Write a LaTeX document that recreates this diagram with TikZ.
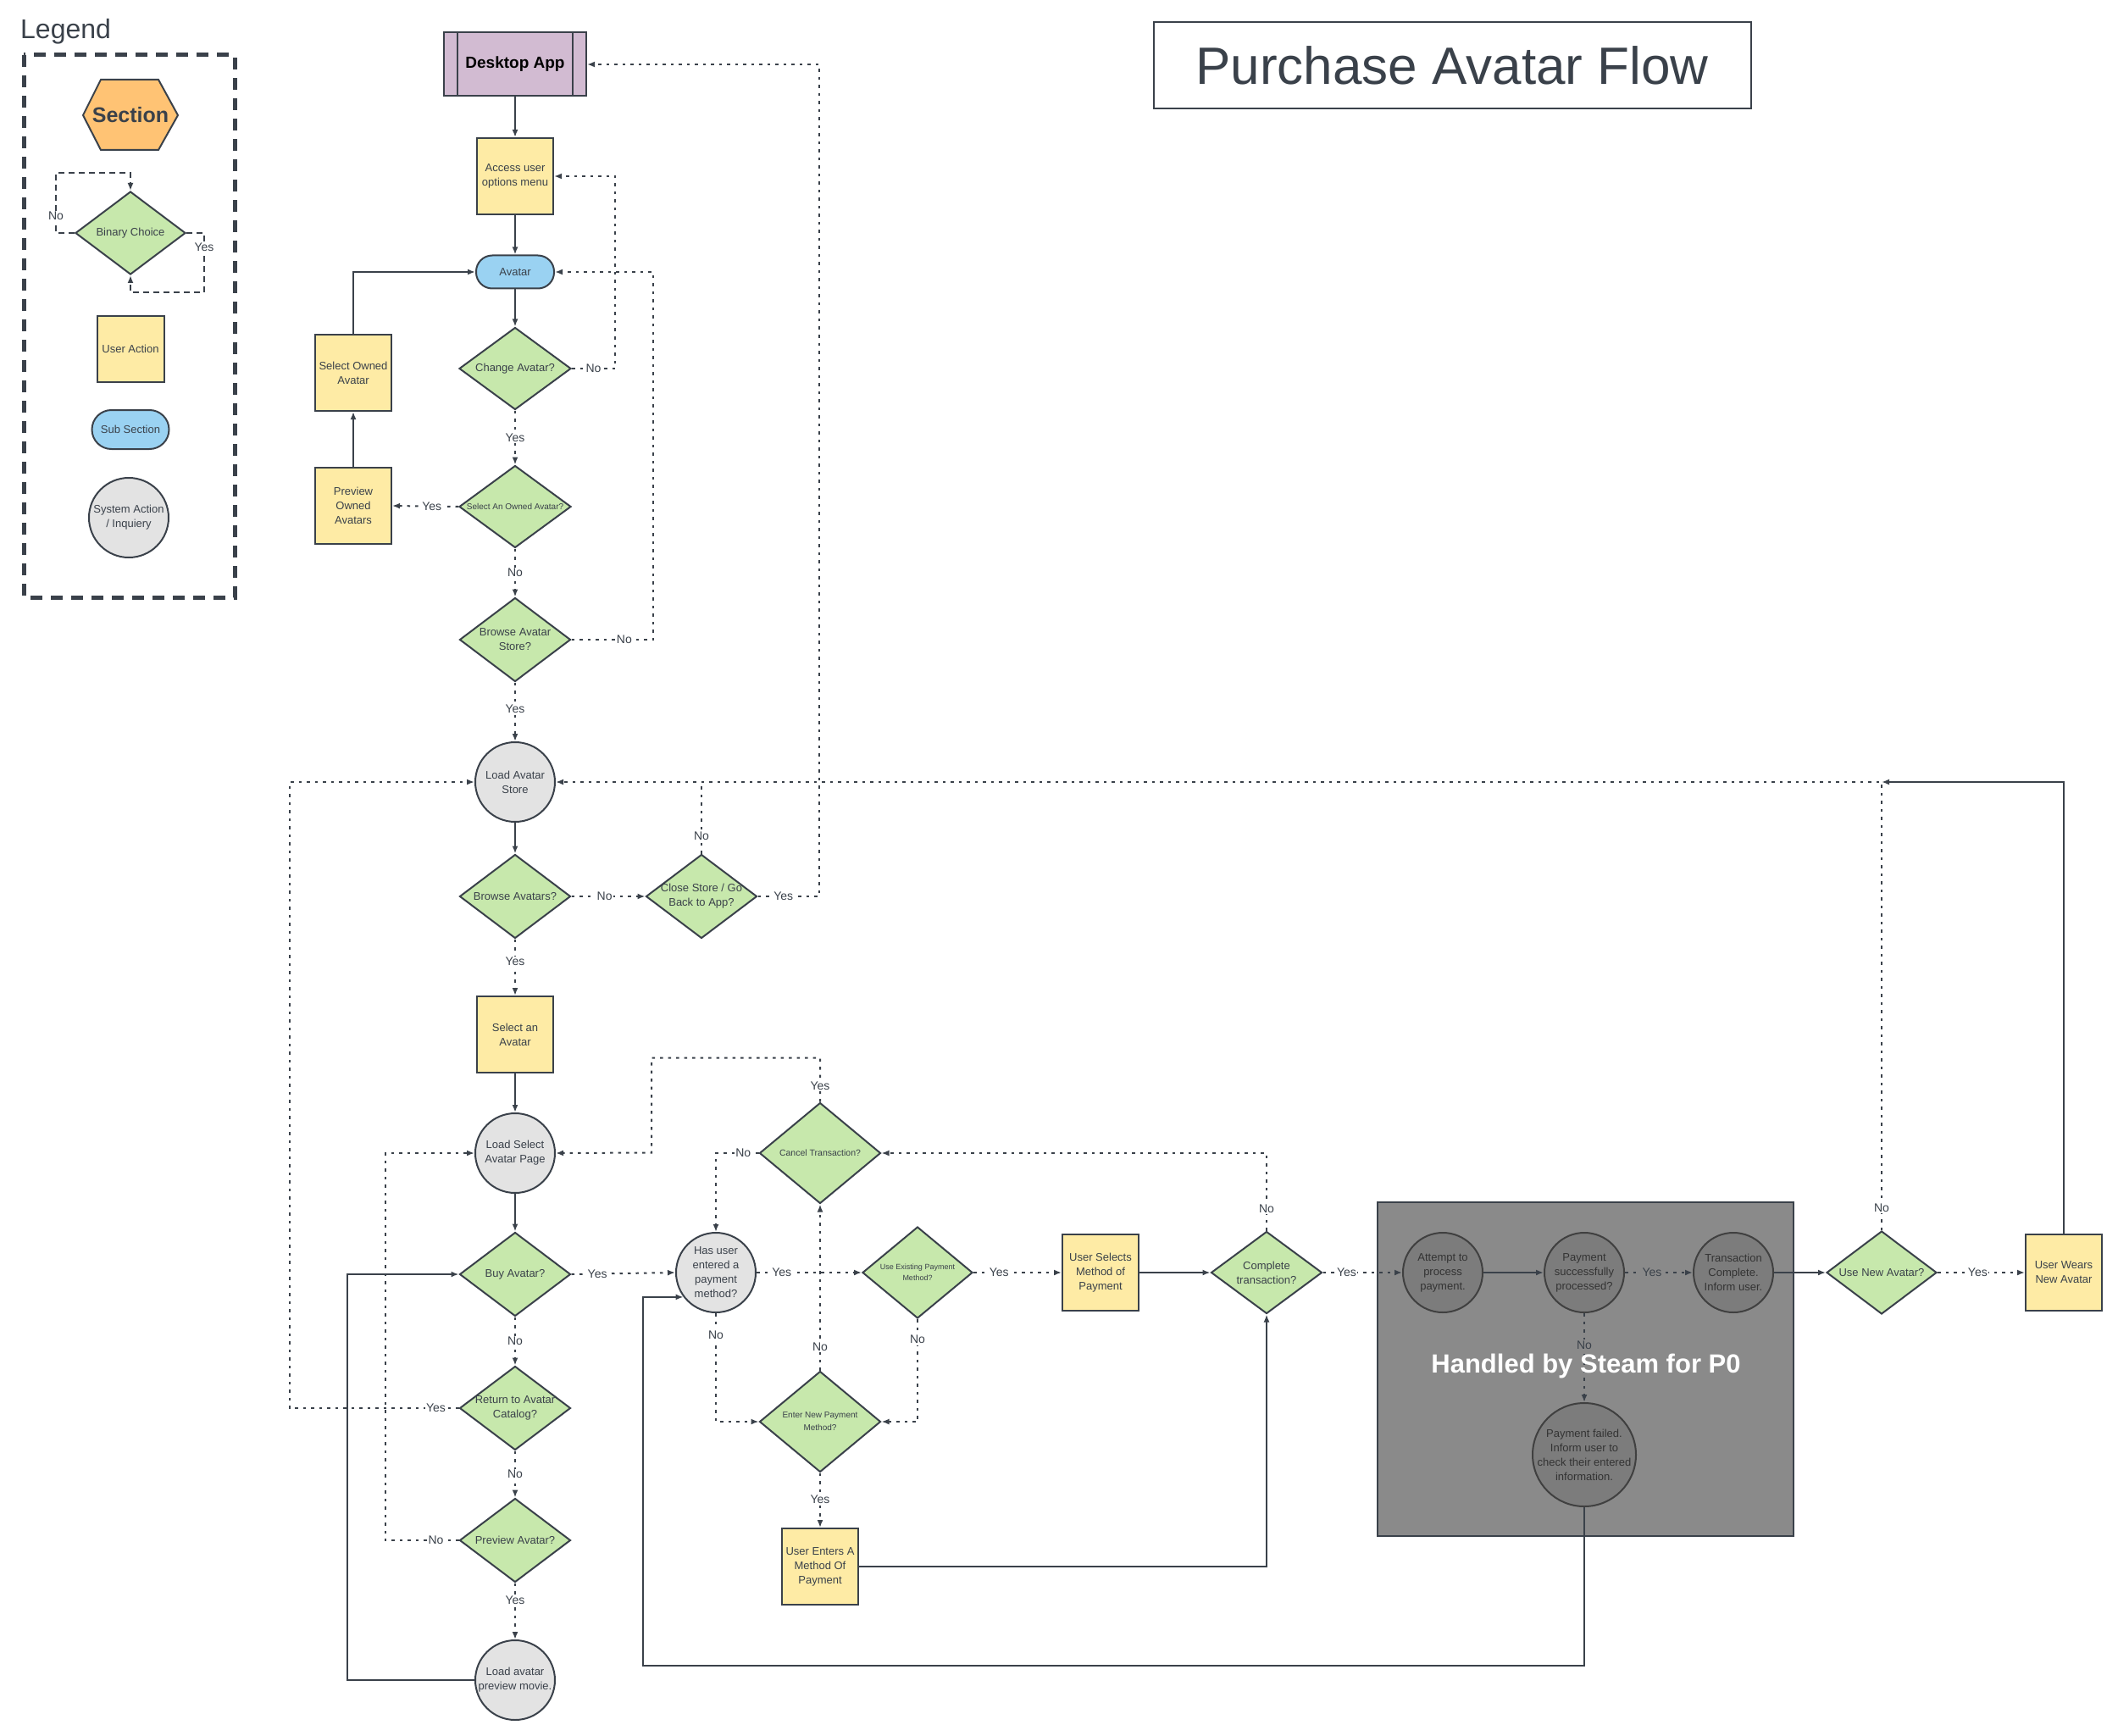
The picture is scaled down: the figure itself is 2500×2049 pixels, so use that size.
\documentclass[tikz,border=0pt]{standalone}
\usepackage{fontspec}
\setmainfont{Liberation Sans}
\usepackage{tikz}
\usetikzlibrary{shapes.geometric, arrows.meta, positioning}

\definecolor{ink}{HTML}{3A414A}
\definecolor{useryellow}{HTML}{FEEBA5}
\definecolor{choicegreen}{HTML}{C7E8AC}
\definecolor{subblue}{HTML}{9AD2F2}
\definecolor{sysgray}{HTML}{E3E3E3}
\definecolor{secorange}{HTML}{FFC374}
\definecolor{deskpurple}{HTML}{D2BBD2}
\definecolor{steamgray}{HTML}{8A8A8A}
\definecolor{steamcircle}{HTML}{7C7C7C}

\tikzset{
  base/.style={draw=ink, line width=2pt, text=ink, align=center, inner sep=0pt, font=\fontsize{13pt}{17pt}\selectfont},
  action/.style={base, rectangle, fill=useryellow, minimum width=90pt, minimum height=90pt},
  decision/.style={base, diamond, aspect=1.32, inner sep=-6pt, fill=choicegreen, minimum width=131pt, minimum height=99pt},
  sysnode/.style={base, circle, fill=sysgray, minimum size=94pt},
  steamnode/.style={base, circle, fill=steamcircle, draw=black!75, text=black!80, minimum size=94pt},
  subnode/.style={base, rectangle, rounded corners=19pt, fill=subblue, minimum width=92pt, minimum height=39pt},
  flow/.style={draw=ink, line width=2pt, -{Latex[length=9pt,width=7pt]}},
  flowdot/.style={flow, dash pattern=on 3.5pt off 6pt},
  loopdash/.style={flow, dash pattern=on 7pt off 5pt},
  lbl/.style={fill=white, text=ink, inner sep=1.5pt, font=\fontsize{14pt}{16pt}\selectfont},
}

\begin{document}
\begin{tikzpicture}[x=1pt, y=-1pt]
\useasboundingbox (0,0) rectangle (2500,2049);

% legend
\node[anchor=west, inner sep=0pt, text=ink, font=\fontsize{32pt}{36pt}\selectfont] (legendtitle) at (24,37) {Legend};
\draw[ink, line width=5pt, dash pattern=on 14pt off 10pt] (28,65) rectangle (277,705);
\draw[ink, line width=2pt, fill=secorange] (98,136) -- (119,94) -- (187,94) -- (210,136) -- (187,177) -- (119,177) -- cycle;
\node[text=ink, font=\bfseries\fontsize{25pt}{28pt}\selectfont] (section) at (154,136) {Section};
\node[decision, minimum width=130pt, minimum height=98pt] (bin) at (154,275) {Binary Choice};
\draw[loopdash] (bin.west) -- ++(-22,0) |- node[lbl, pos=0.14]{No} ([yshift=21pt]bin.north) -- (bin.north);
\draw[loopdash] (bin.east) -- ++(21,0) |- node[lbl, pos=0.12]{Yes} ([yshift=-20pt]bin.south) -- (bin.south);
\node[action, minimum width=79pt, minimum height=78pt] (useract) at (154,412) {User Action};
\node[subnode, minimum width=91pt, minimum height=46pt, rounded corners=23pt] (subsec) at (154,507) {Sub Section};
\node[sysnode] (sysact) at (152,611) {System Action\\/ Inquiery};

% title
\node[draw=ink, line width=2pt, minimum width=705pt, minimum height=102pt, text=ink, font=\fontsize{62pt}{70pt}\selectfont] (title) at (1714,77) {Purchase Avatar Flow};

% steam area
\node[draw=ink, line width=2pt, fill=steamgray, minimum width=491pt, minimum height=394pt] (steam) at (1871.5,1616) {};

% main column
\node[base, fill=deskpurple, minimum width=168pt, minimum height=75pt, text=black, font=\bfseries\fontsize{19pt}{22pt}\selectfont] (desk) at (608,76) {Desktop App};
\draw[ink, line width=2pt] ([xshift=17pt]desk.north west) -- ([xshift=17pt]desk.south west);
\draw[ink, line width=2pt] ([xshift=-17pt]desk.north east) -- ([xshift=-17pt]desk.south east);
\node[action] (access) at (608,208) {Access user\\options menu};
\node[subnode] (avatar) at (608,321) {Avatar};
\node[decision, minimum width=132pt, minimum height=97pt] (chg) at (608,435) {Change Avatar?};
\node[decision, minimum width=132pt, minimum height=97pt, font=\fontsize{10pt}{13pt}\selectfont] (sel) at (608,598) {Select An Owned Avatar?};
\node[action] (selowned) at (417,440) {Select Owned\\Avatar};
\node[action] (prevowned) at (417,597) {Preview\\Owned\\Avatars};
\node[decision] (browsestore) at (608,755) {Browse Avatar\\Store?};
\node[sysnode] (loadstore) at (608,923) {Load Avatar\\Store};
\node[decision] (browse) at (608,1058) {Browse Avatars?};
\node[decision] (close) at (828,1058) {Close Store / Go\\Back to App?};
\node[action] (selavatar) at (608,1221) {Select an\\Avatar};
\node[sysnode] (selpage) at (608,1361) {Load Select\\Avatar Page};
\node[decision] (buy) at (608,1504) {Buy Avatar?};
\node[decision] (return) at (608,1662) {Return to Avatar\\Catalog?};
\node[decision] (preview) at (608,1818) {Preview Avatar?};
\node[sysnode] (loadmovie) at (608,1983) {Load avatar\\preview movie.};

% payment
\node[decision, minimum width=143pt, minimum height=119pt, font=\fontsize{10.5pt}{14pt}\selectfont] (cancel) at (968,1361) {Cancel Transaction?};
\node[sysnode] (hasuser) at (845,1502) {Has user\\entered a\\payment\\method?};
\node[decision, minimum width=130pt, minimum height=108pt, font=\fontsize{9pt}{13pt}\selectfont] (useex) at (1083,1502) {Use Existing Payment\\Method?};
\node[decision, minimum width=143pt, minimum height=119pt, font=\fontsize{10pt}{15pt}\selectfont] (enternew) at (968,1678) {Enter New Payment\\Method?};
\node[action] (userenters) at (968,1849) {User Enters A\\Method Of\\Payment};
\node[action] (usersel) at (1299,1502) {User Selects\\Method of\\Payment};
\node[decision, minimum height=97pt] (complete) at (1495,1502) {Complete\\transaction?};
\node[steamnode] (attempt) at (1703,1502) {Attempt to\\process\\payment.};
\node[steamnode] (paysuccess) at (1870,1502) {Payment\\successfully\\processed?};
\node[steamnode] (transdone) at (2046,1502) {Transaction\\Complete.\\Inform user.};
\node[steamnode, minimum size=122pt, inner sep=-3pt] (fail) at (1870,1717) {Payment failed.\\Inform user to\\check their entered\\information.};
\node[decision, minimum width=130pt, minimum height=98pt] (usenew) at (2221,1502) {Use New Avatar?};
\node[action] (userwears) at (2436,1502) {User Wears\\New Avatar};
\coordinate (backcorner) at (759,1966);

% solid connectors
\draw[flow] (desk) -- (access);
\draw[flow] (access) -- (avatar);
\draw[flow] (avatar) -- (chg);
\draw[flow] (prevowned) -- (selowned);
\draw[flow] (selowned.north) |- (avatar.west);
\draw[flow] (loadstore) -- (browse);
\draw[flow] (selavatar) -- (selpage);
\draw[flow] (selpage) -- (buy);
\draw[flow] (loadmovie.west) -- ++(-150,0) |- (buy.west);
\draw[flow] (usersel) -- (complete);
\draw[flow] (userenters.east) -| (complete.south);
\draw[flow] (attempt) -- (paysuccess);
\draw[flow] (transdone) -- (usenew);
\draw[flow] (userwears.north) |- (usenew.north |- loadstore.east);
\draw[flow] (fail.south) |- (backcorner) |- (hasuser.217);

% dotted connectors
\draw[flowdot] (chg.east) -- node[lbl]{No} ++(51,0) |- (access.east);
\draw[flowdot] (chg.south) -- node[lbl]{Yes} (sel.north);
\draw[flowdot] (sel.west) -- node[lbl, pos=0.4]{Yes} (prevowned.east);
\draw[flowdot] (sel.south) -- node[lbl]{No} (browsestore.north);
\draw[flowdot] (browsestore.east) -- node[lbl, pos=0.65]{No} ++(96,0) |- (avatar.east);
\draw[flowdot] (browsestore.south) -- node[lbl, pos=0.45]{Yes} (loadstore.north);
\draw[flowdot] (browse.east) -- node[lbl, pos=0.45]{No} (close.west);
\draw[flowdot, -] (close.north) -- node[lbl, pos=0.25]{No} (close.north |- loadstore.east);
\draw[flowdot] (close.east) -- node[lbl, pos=0.42]{Yes} ++(72,0) |- (desk.east);
\draw[flowdot] (browse.south) -- node[lbl, pos=0.4]{Yes} (selavatar.north);
\draw[flowdot] (buy.east) -- node[lbl, pos=0.25]{Yes} (hasuser.west);
\draw[flowdot] (buy.south) -- node[lbl]{No} (return.north);
\draw[flowdot] (return.west) -- node[lbl, pos=0.135]{Yes} ++(-200,0) |- (loadstore.west);
\draw[flowdot] (return.south) -- node[lbl]{No} (preview.north);
\draw[flowdot] (preview.west) -- node[lbl, pos=0.31]{No} ++(-87,0) |- (selpage.west);
\draw[flowdot] (preview.south) -- node[lbl, pos=0.3]{Yes} (loadmovie.north);
\draw[flowdot] (cancel.north) -- node[lbl, pos=0.37]{Yes} ++(0,-52) -| ++(-199,112) -- (selpage.east);
\draw[flowdot] (cancel.west) -| node[lbl, pos=0.18]{No} (hasuser.north);
\draw[flowdot] (hasuser.east) -- node[lbl, pos=0.24]{Yes} (useex.west);
\draw[flowdot] (hasuser.south) |- node[lbl, pos=0.1]{No} (enternew.west);
\draw[flowdot] (enternew.north) -- node[lbl, pos=0.14]{No} (cancel.south);
\draw[flowdot] (useex.south) |- node[lbl, pos=0.1]{No} (enternew.east);
\draw[flowdot] (enternew.south) -- node[lbl, pos=0.48]{Yes} (userenters.north);
\draw[flowdot] (useex.east) -- node[lbl, pos=0.29]{Yes} (usersel.west);
\draw[flowdot] (complete.north) |- node[lbl, pos=0.14]{No} (cancel.east);
\draw[flowdot] (complete.east) -- node[lbl, pos=0.3]{Yes} (attempt.west);
\draw[flowdot] (paysuccess.east) -- node[lbl, fill=steamgray, pos=0.4]{Yes} (transdone.west);
\draw[flowdot] (paysuccess.south) -- node[lbl, fill=steamgray, pos=0.36]{No} (fail.north);
\draw[flowdot] (usenew.north) |- node[lbl, pos=0.025]{No} (loadstore.east);
\draw[flowdot] (usenew.east) -- node[lbl, pos=0.46]{Yes} (userwears.west);

\node[text=white, font=\bfseries\fontsize{31pt}{34pt}\selectfont] (steamtitle) at (1872,1612) {Handled by Steam for P0};

\end{tikzpicture}
\end{document}
